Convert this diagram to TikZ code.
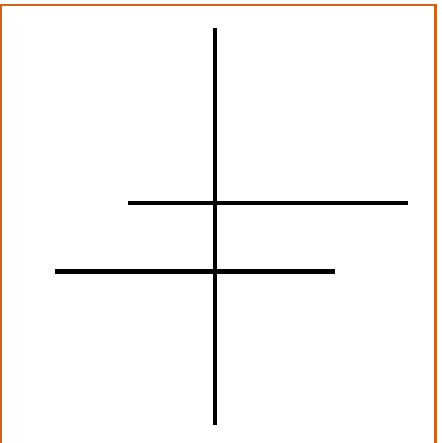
\documentclass[tikz,border=0pt]{standalone}
\definecolor{frameorange}{RGB}{208,98,28}
\begin{document}
\begin{tikzpicture}[x=1pt,y=-1pt,
  framestyle/.style={draw=frameorange,line width=2.5pt},
  barstyle/.style={draw=black,line width=4.3pt}]
\useasboundingbox (0,0) rectangle (441,443);
\fill[white] (0,0) rectangle (441,443);
\draw[framestyle] (1.2,445) -- (1.2,5.2) -- (435.6,5.2) -- (435.6,445);
\coordinate (vt) at (215,28);
\coordinate (vb) at (215,425);
\coordinate (h1l) at (128,203);
\coordinate (h1r) at (408,203);
\coordinate (h2l) at (55,271.5);
\coordinate (h2r) at (335,271.5);
\draw[barstyle] (vt) -- (vb);
\draw[barstyle] (h1l) -- (h1r);
\draw[barstyle] (h2l) -- (h2r);
\end{tikzpicture}
\end{document}
